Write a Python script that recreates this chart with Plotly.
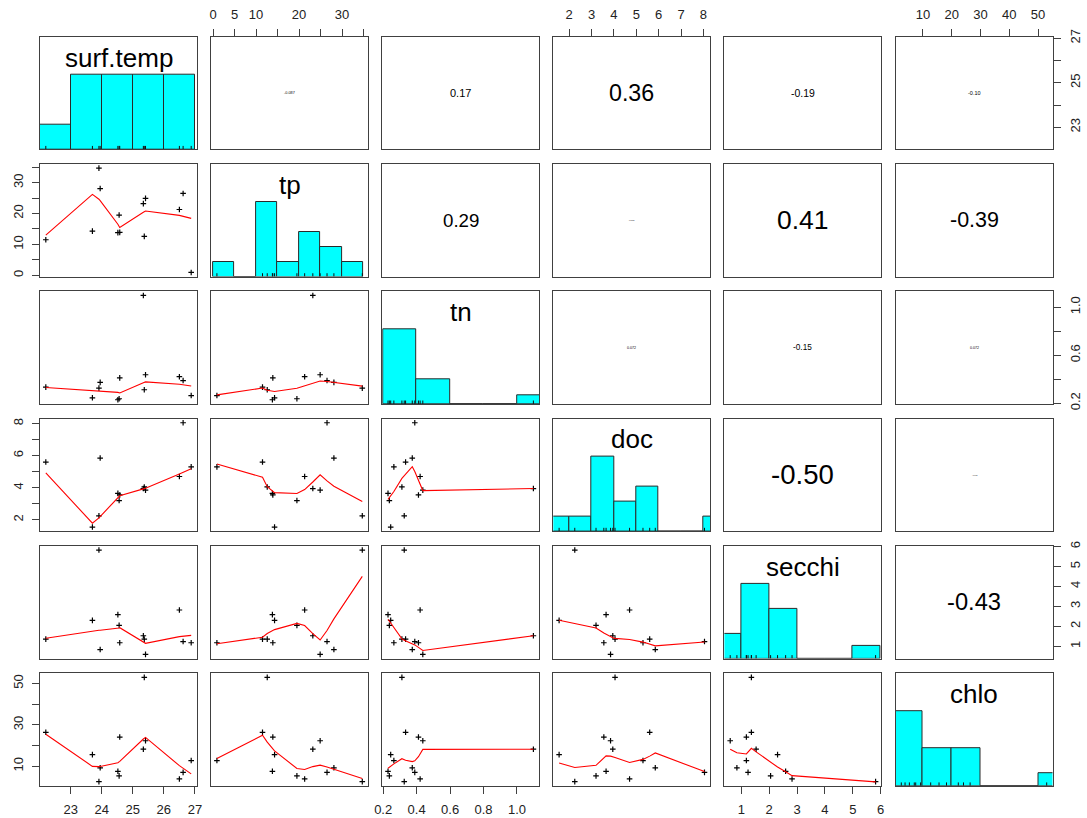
import numpy as np
import plotly.graph_objects as go

# ---------------- data (13 lakes) ----------------
var_names = ["surf.temp", "tp", "tn", "doc", "secchi", "chlo"]
surf_temp = [22.2, 23.7, 23.91, 23.95, 24.56, 24.58, 24.52, 25.34, 25.37, 25.41, 26.5, 26.62, 26.88]
tp        = [11.5, 14.3, 34.7, 28.1, 19.5, 13.9, 13.8, 23.2, 12.6, 24.9, 21.3, 26.5, 0.9]
tn        = [0.334, 0.245, 0.326, 0.374, 0.237, 0.411, 0.229, 1.098, 0.312, 0.437, 0.421, 0.389, 0.264]
doc       = [5.6, 1.55, 2.25, 5.85, 3.2, 3.55, 3.65, 3.95, 4.05, 3.85, 4.7, 8.05, 5.3]
secchi    = [1.36, 2.30, 5.82, 0.84, 2.05, 1.18, 2.59, 1.53, 1.36, 0.60, 2.82, 1.24, 1.18]
chlo      = [26.4, 15.6, 2.5, 9.2, 5.3, 24.1, 7.5, 18.2, 53.0, 22.3, 3.8, 7.0, 12.7]
data = [surf_temp, tp, tn, doc, secchi, chlo]

# correlation labels shown in the upper panels (None -> computed from the data)
cor_labels = {
    (0, 1): None, (0, 2): "0.17", (0, 3): "0.36", (0, 4): "-0.19", (0, 5): "-0.10",
    (1, 2): "0.29", (1, 3): None, (1, 4): "0.41", (1, 5): "-0.39",
    (2, 3): None, (2, 4): "-0.15", (2, 5): None,
    (3, 4): "-0.50", (3, 5): None,
    (4, 5): "-0.43",
}

# histogram breaks (R pretty / Sturges)
hist_breaks = [
    [22, 23, 24, 25, 26, 27],
    [0, 5, 10, 15, 20, 25, 30, 35],
    [0.2, 0.4, 0.6, 0.8, 1.0, 1.2],
    [1, 2, 3, 4, 5, 6, 7, 8, 9],
    [0, 1, 2, 3, 4, 5, 6],
    [0, 10, 20, 30, 40, 50, 60],
]

# tick values / labels for horizontal (bottom/top) and vertical (left/right) outer axes
tick_vals_h = [[23, 24, 25, 26, 27], [0, 5, 10, 15, 20, 25, 30, 35], [0.2, 0.4, 0.6, 0.8, 1.0],
               [2, 3, 4, 5, 6, 7, 8], [1, 2, 3, 4, 5, 6], [10, 20, 30, 40, 50]]
tick_text_h = [["23", "24", "25", "26", "27"], ["0", "5", "10", "", "20", "", "30", ""],
               ["0.2", "0.4", "0.6", "0.8", "1.0"], ["2", "3", "4", "5", "6", "7", "8"],
               ["1", "2", "3", "4", "5", "6"], ["10", "20", "30", "40", "50"]]
tick_vals_v = [[23, 24, 25, 26, 27], [0, 5, 10, 15, 20, 25, 30, 35], [0.2, 0.4, 0.6, 0.8, 1.0],
               [2, 3, 4, 5, 6, 7, 8], [1, 2, 3, 4, 5, 6], [10, 20, 30, 40, 50]]
tick_text_v = [["23", "", "25", "", "27"], ["0", "", "10", "", "20", "", "30", ""],
               ["0.2", "", "0.6", "", "1.0"], ["2", "", "4", "", "6", "", "8"],
               ["1", "2", "3", "4", "5", "6"], ["10", "", "30", "", "50"]]

# ---------------- helpers ----------------
def lowess_r(xv, yv, f=2/3, nsteps=3):
    """Port of R's clowess (stats::lowess)."""
    xv = np.asarray(xv, float); yv = np.asarray(yv, float)
    o = np.argsort(xv, kind="stable")
    x = xv[o]; y = yv[o]
    n = len(x)
    delta = 0.01 * (x[-1] - x[0])
    ns = max(2, min(n, int(f * n + 1e-7)))
    ys = np.zeros(n); rw = np.ones(n)
    rng = x[-1] - x[0]

    def lowest(xs, nleft, nright, userw):
        h = max(xs - x[nleft], x[nright] - xs)
        h9 = 0.999 * h; h1 = 0.001 * h
        w = np.zeros(n)
        a = 0.0
        j = nleft
        while j < n:
            r = abs(x[j] - xs)
            if r <= h9:
                w[j] = 1.0 if r <= h1 else (1 - (r / h) ** 3) ** 3
                if userw:
                    w[j] *= rw[j]
                a += w[j]
            elif x[j] > xs:
                break
            j += 1
        nrt = j - 1
        if a <= 0:
            return None
        sl = slice(nleft, nrt + 1)
        w[sl] /= a
        if h > 0:
            a = np.sum(w[sl] * x[sl])
            b = xs - a
            c = np.sum(w[sl] * (x[sl] - a) ** 2)
            if np.sqrt(c) > 0.001 * rng:
                b /= c
                w[sl] *= (b * (x[sl] - a) + 1)
        return np.sum(w[sl] * y[sl])

    it = 1
    while it <= nsteps + 1:
        nleft = 0; nright = ns - 1; last = -1; i = 0
        while True:
            if nright < n - 1:
                d1 = x[i] - x[nleft]; d2 = x[nright + 1] - x[i]
                if d1 > d2:
                    nleft += 1; nright += 1
                    continue
            v = lowest(x[i], nleft, nright, it > 1)
            ys[i] = y[i] if v is None else v
            if last < i - 1:
                denom = x[i] - x[last]
                for j in range(last + 1, i):
                    alpha = (x[j] - x[last]) / denom
                    ys[j] = alpha * ys[i] + (1 - alpha) * ys[last]
            last = i
            cut = x[last] + delta
            i = last + 1
            while i < n:
                if x[i] > cut:
                    break
                if x[i] == x[last]:
                    ys[i] = ys[last]; last = i
                i += 1
            i = max(last + 1, i - 1)
            if last >= n - 1:
                break
        res = y - ys
        sc = np.mean(np.abs(res))
        if it > nsteps:
            break
        ar = np.abs(res)
        srt = np.sort(ar)
        m1 = n // 2
        cmad = 3 * (srt[m1] + srt[n - m1 - 1]) if n % 2 == 0 else 6 * srt[m1]
        if cmad < 1e-7 * sc:
            break
        c9 = 0.999 * cmad; c1 = 0.001 * cmad
        rw = np.where(ar <= c1, 1.0, np.where(ar <= c9, (1 - (ar / cmad) ** 2) ** 2, 0.0))
        it += 1
    return x, ys


def fmt_r(r):
    a = abs(r)
    dec = 2 if a >= 0.1 or a == 0 else max(2, int(-np.floor(np.log10(a))) + 1)
    return f"{r:.{dec}f}"


def em_width(s):
    w = {"-": 0.333, ".": 0.278}
    return sum(w.get(ch, 0.556) for ch in s)


def right_closed_counts(vals, br):
    vals = np.asarray(vals, float)
    cnt = []
    for k in range(len(br) - 1):
        lo, hi = br[k], br[k + 1]
        if k == 0:
            cnt.append(int(np.sum((vals >= lo - 1e-12) & (vals <= hi + 1e-12))))
        else:
            cnt.append(int(np.sum((vals > lo + 1e-12) & (vals <= hi + 1e-12))))
    return cnt

# ---------------- geometry ----------------
W, H = 1087, 818
X0, XP, PW = 40.0, 171.1, 157.0
Y0, YP, PH = 36.7, 127.3, 112.6
nv = len(var_names)

ranges = []
for v in data:
    lo, hi = min(v), max(v)
    d = hi - lo
    ranges.append([lo - 0.04 * d, hi + 0.04 * d])

FONT = "Liberation Sans, Arial, sans-serif"
AX = "#404040"
fig = go.Figure()
layout = {}
annotations = []
tickcommon = dict(ticks="outside", ticklen=7, tickwidth=1, tickcolor=AX, tickmode="array",
                  showticklabels=True, ticklabelstandoff=4,
                  tickfont=dict(family=FONT, size=13, color="#222"))

for r in range(nv):
    for c in range(nv):
        k = r * nv + c + 1
        xs = "x" if k == 1 else f"x{k}"
        ysn = "y" if k == 1 else f"y{k}"
        xa = "xaxis" if k == 1 else f"xaxis{k}"
        ya = "yaxis" if k == 1 else f"yaxis{k}"
        left = X0 + XP * c
        top = Y0 + YP * r
        xdom = [left / W, (left + PW) / W]
        ydom = [1 - (top + PH) / H, 1 - top / H]

        xaxis = dict(domain=xdom, range=ranges[c], anchor=ysn, showline=True, mirror=True,
                     linecolor=AX, linewidth=1.3, showgrid=False, zeroline=False,
                     showticklabels=False, ticks="", fixedrange=True, automargin=False)
        if r == nv - 1 and c % 2 == 0:
            xaxis.update(side="bottom", tickvals=tick_vals_h[c], ticktext=tick_text_h[c], **tickcommon)
        if r == 0 and c % 2 == 1:
            xaxis.update(side="top", tickvals=tick_vals_h[c], ticktext=tick_text_h[c], **tickcommon)

        if r == c:
            counts = right_closed_counts(data[c], hist_breaks[c])
            maxc = max(counts)
            yrange = [0, 1.5 * maxc]
        else:
            yrange = ranges[r]
        yaxis = dict(domain=ydom, range=yrange, anchor=xs, showline=True, mirror=True,
                     linecolor=AX, linewidth=1.3, showgrid=False, zeroline=False,
                     showticklabels=False, ticks="", fixedrange=True, automargin=False)
        if c == 0 and r % 2 == 1:
            yaxis.update(side="left", tickvals=tick_vals_v[r], ticktext=tick_text_v[r],
                         tickangle=-90, **tickcommon)
        if c == nv - 1 and r % 2 == 0:
            yaxis.update(side="right", tickvals=tick_vals_v[r], ticktext=tick_text_v[r],
                         tickangle=-90, **tickcommon)
        layout[xa] = xaxis
        layout[ya] = yaxis

        if r == c:
            br = hist_breaks[c]
            centers = [(br[i] + br[i + 1]) / 2 for i in range(len(br) - 1)]
            widths = [br[i + 1] - br[i] for i in range(len(br) - 1)]
            fig.add_trace(go.Bar(x=centers, y=counts, width=widths, xaxis=xs, yaxis=ysn,
                                 marker=dict(color="#00FFFF", line=dict(color="#2a2a2a", width=1)),
                                 showlegend=False, hoverinfo="skip"))
            rx, ry = [], []
            tick_h = 0.03 * yrange[1]
            for v in data[c]:
                rx += [v, v, None]
                ry += [0, tick_h, None]
            fig.add_trace(go.Scatter(x=rx, y=ry, mode="lines", xaxis=xs, yaxis=ysn,
                                     line=dict(color="#111", width=1), showlegend=False,
                                     hoverinfo="skip"))
            annotations.append(dict(text=var_names[c], x=0.5, y=0.815, xref=f"{xs} domain",
                                    yref=f"{ysn} domain", xanchor="center", yanchor="middle",
                                    showarrow=False,
                                    font=dict(family=FONT, size=26, color="black")))
        elif r > c:
            fig.add_trace(go.Scatter(x=data[c], y=data[r], mode="markers", xaxis=xs, yaxis=ysn,
                                     marker=dict(symbol="cross-thin", size=4,
                                                 line=dict(color="black", width=1.2)),
                                     showlegend=False, hoverinfo="skip"))
            lx, ly = lowess_r(data[c], data[r])
            fig.add_trace(go.Scatter(x=lx, y=ly, mode="lines", xaxis=xs, yaxis=ysn,
                                     line=dict(color="#FF0000", width=1.1), showlegend=False,
                                     hoverinfo="skip"))
        else:
            # empty trace so the panel (and its frame/axes) is created
            fig.add_trace(go.Scatter(x=[None], y=[None], mode="markers", xaxis=xs, yaxis=ysn,
                                     showlegend=False, hoverinfo="skip"))
            txt = cor_labels.get((r, c))
            if txt is None:
                txt = fmt_r(float(np.corrcoef(data[r], data[c])[0, 1]))
            size = 0.8 * abs(float(txt)) * PW / em_width(txt)
            annotations.append(dict(text=txt, x=0.5, y=0.5, xref=f"{xs} domain",
                                    yref=f"{ysn} domain", xanchor="center", yanchor="middle",
                                    showarrow=False,
                                    font=dict(family=FONT, size=max(size, 1.5), color="black")))

fig.update_layout(**layout)
fig.update_layout(width=W, height=H, margin=dict(l=0, r=0, t=0, b=0, pad=0), autosize=False,
                  paper_bgcolor="white", plot_bgcolor="white", annotations=annotations,
                  bargap=0, showlegend=False)
fig.write_html("out.html", config={"responsive": False, "displayModeBar": False},
               post_script="document.body.style.margin='0';document.body.style.overflow='hidden';")
